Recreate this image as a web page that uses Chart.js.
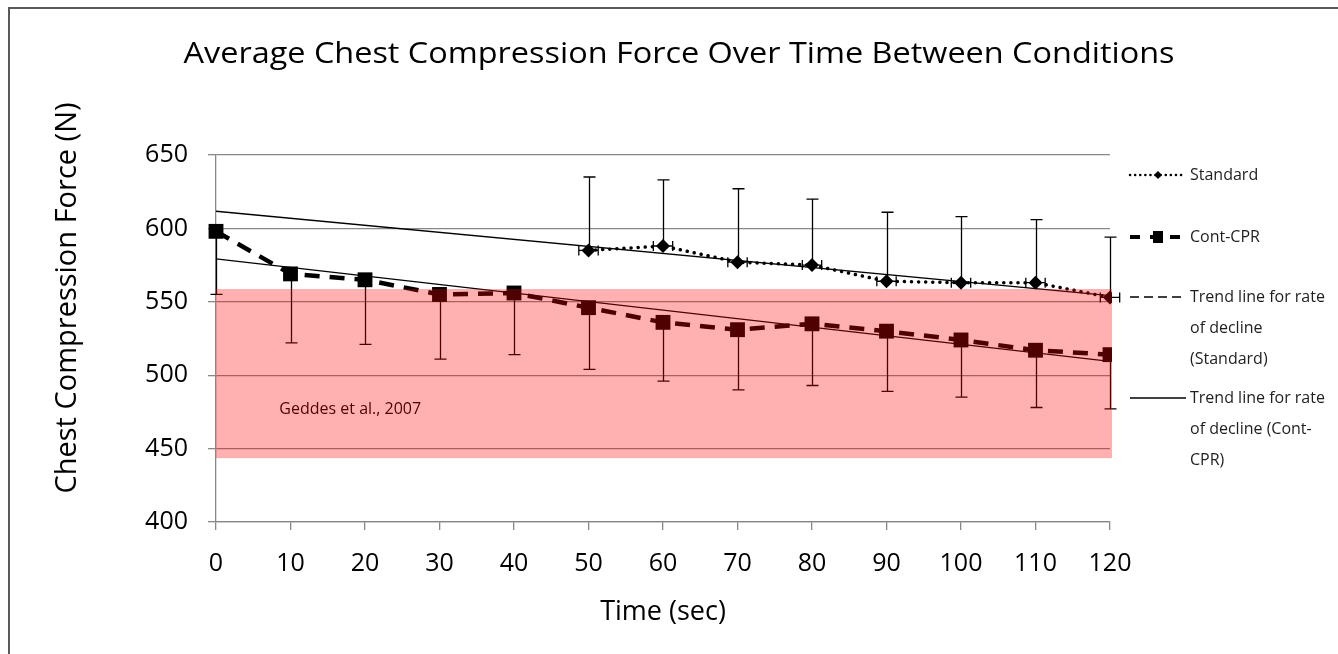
<!doctype html>
<html>
<head>
<title>chest compression force</title>
<script src="https://cdn.jsdelivr.net/npm/chart.js@4.4.1/dist/chart.umd.min.js"></script>
<style>
  html, body { margin: 0; padding: 0; background: #fff; }
  #wrap { width: 1338px; height: 654px; }
</style>
</head>
<body>
<div id="wrap"><canvas id="chart" width="1338" height="654"></canvas></div>
<script>
// values
var timeStandard = [50, 60, 70, 80, 90, 100, 110, 120];
var forceStandard = [585, 588, 577, 575, 564, 563, 563, 553];
var errHighStandard = [635, 633, 627, 620, 611, 608, 606, 594];
var xErrStandard = 1.3;

var timeCont = [0, 10, 20, 30, 40, 50, 60, 70, 80, 90, 100, 110, 120];
var forceCont = [598, 569, 565, 555, 556, 546, 536, 531, 535, 530, 524, 517, 514];
var errLowCont = [555, 522, 521, 511, 514, 504, 496, 490, 493, 489, 485, 478, 477];

var trendX = [0, 120];
var trendStandard = [611.7, 554.2];
var trendCont = [579.2, 509.4];

var bandLow = 443.5;
var bandHigh = 558.7;
var bandLabel = "Geddes et al., 2007";
var bandLabelAt = [8.5, 477];

var chartTitle = "Average Chest Compression Force Over Time Between Conditions";
var yTitle = "Chest Compression Force (N)";

var legendItems = [
    { label: ["Standard"], kind: "standard" },
    { label: ["Cont-CPR"], kind: "cont" },
    { label: ["Trend line for rate", "of decline", "(Standard)"], kind: "trendStd" },
    { label: ["Trend line for rate", "of decline (Cont-", "CPR)"], kind: "trendCont" }
];

var FONT = "'Open Sans', sans-serif";

function pts(xs, ys) {
    return xs.map(function(x, i) { return { x: x, y: ys[i] }; });
}

var gridColor = "#888888";

var overlayPlugin = {
    id: "overlay",
    afterDatasetsDraw: function(chart) {
        var ctx = chart.ctx;
        var xs = chart.scales.x, ys = chart.scales.y;
        var cap = 6;
        ctx.save();
        ctx.strokeStyle = "#000";
        ctx.lineWidth = 1.3;
        ctx.beginPath();
        timeStandard.forEach(function(t, i) {
            var px = Math.round(xs.getPixelForValue(t)) + 0.5;
            var py = ys.getPixelForValue(forceStandard[i]);
            var pt = ys.getPixelForValue(errHighStandard[i]);
            ctx.moveTo(px, py); ctx.lineTo(px, pt);
            ctx.moveTo(px - cap, pt); ctx.lineTo(px + cap, pt);
            var xl = xs.getPixelForValue(t - xErrStandard), xr = xs.getPixelForValue(t + xErrStandard);
            ctx.moveTo(xl, py); ctx.lineTo(xr, py);
            ctx.moveTo(xl, py - 5); ctx.lineTo(xl, py + 5);
            ctx.moveTo(xr, py - 5); ctx.lineTo(xr, py + 5);
        });
        timeCont.forEach(function(t, i) {
            var px = Math.round(xs.getPixelForValue(t)) + 0.5;
            var py = ys.getPixelForValue(forceCont[i]);
            var pb = ys.getPixelForValue(errLowCont[i]);
            ctx.moveTo(px, py); ctx.lineTo(px, pb);
            ctx.moveTo(px - cap, pb); ctx.lineTo(px + cap, pb);
        });
        ctx.stroke();

        ctx.fillStyle = "#000";
        ctx.font = "16px " + FONT;
        ctx.textBaseline = "middle";
        ctx.fillText(bandLabel, xs.getPixelForValue(bandLabelAt[0]), ys.getPixelForValue(bandLabelAt[1]));

        // pink band sits on top, translucent, so marks under it turn dark red
        var top = ys.getPixelForValue(bandHigh), bot = ys.getPixelForValue(bandLow);
        var left = chart.chartArea.left, right = xs.getPixelForValue(120) + 2;
        ctx.fillStyle = "rgba(255, 0, 0, 0.31)";
        ctx.fillRect(left, top, right - left, bot - top);
        ctx.restore();
    },
    afterDraw: function(chart) {
        var ctx = chart.ctx;
        ctx.save();
        // outer frame
        ctx.strokeStyle = "#595959";
        ctx.lineWidth = 2;
        ctx.strokeRect(9, 8, 1400, 700);

        // title, centred on the whole picture
        ctx.fillStyle = "#000";
        ctx.font = "30px " + FONT;
        ctx.textBaseline = "alphabetic";
        ctx.textAlign = "center";
        var w = ctx.measureText(chartTitle).width;
        ctx.save();
        ctx.translate(679, 63);
        ctx.scale(991 / w, 1);
        ctx.fillText(chartTitle, 0, 0);
        ctx.restore();

        // y axis title
        ctx.save();
        ctx.translate(68, 298);
        ctx.rotate(-Math.PI / 2);
        ctx.font = "29px " + FONT;
        ctx.textBaseline = "middle";
        ctx.fillText(yTitle, 0, 0);
        ctx.restore();
        ctx.textAlign = "left";

        // legend
        var x0 = 1130, x1 = 1186, xm = 1158, tx = 1190;
        var rows = [175, 237, 297, 398];
        var lineGap = 31;
        ctx.font = "16px " + FONT;
        ctx.textBaseline = "middle";
        legendItems.forEach(function(item, k) {
            var y = rows[k];
            ctx.strokeStyle = "#000";
            ctx.fillStyle = "#000";
            ctx.beginPath();
            if (item.kind === "standard") {
                ctx.lineWidth = 2.5; ctx.lineCap = "round"; ctx.setLineDash([0.1, 5]);
                ctx.moveTo(x0, y); ctx.lineTo(x1, y); ctx.stroke();
                ctx.setLineDash([]);
                ctx.beginPath();
                ctx.moveTo(xm, y - 4); ctx.lineTo(xm + 4, y); ctx.lineTo(xm, y + 4); ctx.lineTo(xm - 4, y);
                ctx.closePath(); ctx.fill();
            } else if (item.kind === "cont") {
                ctx.lineWidth = 4; ctx.lineCap = "butt"; ctx.setLineDash([10, 10]);
                ctx.moveTo(x0, y); ctx.lineTo(x1, y); ctx.stroke();
                ctx.setLineDash([]);
                ctx.fillRect(xm - 5, y - 6, 10, 12);
            } else if (item.kind === "trendStd") {
                ctx.lineWidth = 1.5; ctx.lineCap = "butt"; ctx.setLineDash([9, 5]);
                ctx.moveTo(x0, y); ctx.lineTo(x1, y); ctx.stroke();
                ctx.setLineDash([]);
            } else {
                ctx.lineWidth = 1.5; ctx.setLineDash([]);
                ctx.moveTo(x0, y); ctx.lineTo(x1, y); ctx.stroke();
            }
            ctx.fillStyle = "#1e1e1e";
            item.label.forEach(function(line, j) {
                ctx.fillText(line, tx, y + j * lineGap);
            });
        });
        ctx.restore();
    }
};

new Chart(document.getElementById("chart"), {
    type: "line",
    data: {
        datasets: [
            {
                label: "Standard",
                data: pts(timeStandard, forceStandard),
                borderColor: "#000",
                backgroundColor: "#000",
                borderWidth: 3.5,
                borderDash: [0.1, 7],
                borderCapStyle: "round",
                pointStyle: "rectRot",
                pointRadius: 7,
                pointBackgroundColor: "#000",
                pointBorderWidth: 0,
                clip: { left: false, top: false, right: 2, bottom: false }
            },
            {
                label: "Cont-CPR",
                data: pts(timeCont, forceCont),
                borderColor: "#000",
                backgroundColor: "#000",
                borderWidth: 4.5,
                borderDash: [15, 10],
                pointStyle: "rect",
                pointRadius: 10.5,
                pointBackgroundColor: "#000",
                pointBorderWidth: 0,
                clip: { left: false, top: false, right: 2, bottom: false }
            },
            {
                label: "Trend line for rate of decline (Standard)",
                data: pts(trendX, trendStandard),
                borderColor: "#000",
                borderWidth: 1.3,
                pointRadius: 0
            },
            {
                label: "Trend line for rate of decline (Cont-CPR)",
                data: pts(trendX, trendCont),
                borderColor: "#000",
                borderWidth: 1.3,
                pointRadius: 0
            }
        ]
    },
    options: {
        responsive: false,
        animation: false,
        layout: { padding: { left: 0, right: 228, top: 155, bottom: 0 } },
        plugins: {
            legend: { display: false },
            tooltip: { enabled: false },
            title: { display: false }
        },
        scales: {
            x: {
                type: "linear",
                min: 0,
                max: 120,
                afterFit: function(s) { s.height = 132; },
                ticks: { stepSize: 10, color: "#000", padding: 19, font: { family: FONT, size: 25 } },
                grid: { drawOnChartArea: false, drawTicks: true, tickLength: 8, color: gridColor, lineWidth: 1.3 },
                border: { color: gridColor, width: 1.3 },
                title: {
                    display: true,
                    text: "Time (sec)",
                    color: "#000",
                    font: { family: FONT, size: 27, lineHeight: 1.2 },
                    padding: { top: 0, bottom: 25 }
                }
            },
            y: {
                min: 400,
                max: 650,
                afterFit: function(s) { s.width = 216; },
                ticks: { stepSize: 50, color: "#000", padding: 20, font: { family: FONT, size: 25 } },
                grid: { drawTicks: true, tickLength: 8, color: gridColor, lineWidth: 1.3 },
                border: { color: gridColor, width: 1.3 }
            }
        }
    },
    plugins: [overlayPlugin]
});
</script>
</body>
</html>
